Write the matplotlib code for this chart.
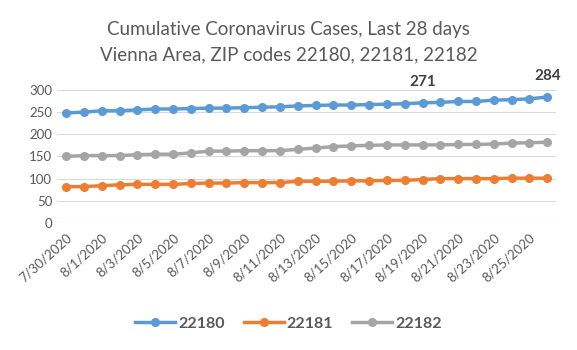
import numpy as np
import matplotlib.pyplot as plt

plt.rcParams['font.family'] = ['Lato', 'DejaVu Sans']

dates = ["7/30/2020", "7/31/2020"] + ["8/%d/2020" % d for d in range(1, 27)]
s22180 = [248, 250, 253, 253, 255, 257, 257, 258, 259, 259, 260, 261, 262, 264,
          265, 266, 266, 267, 268, 269, 271, 272, 274, 274, 277, 278, 280, 284]
s22181 = [82, 82, 84, 86, 87, 87, 87, 89, 90, 90, 91, 91, 91, 94,
          94, 94, 95, 95, 96, 96, 98, 100, 100, 100, 100, 101, 101, 101]
s22182 = [150, 152, 152, 152, 154, 155, 155, 158, 162, 162, 163, 163, 163, 166,
          169, 172, 174, 175, 176, 176, 176, 176, 177, 177, 178, 180, 181, 182]
labeled = [20, 27]  # points with data labels on 22180

txt = "#595959"
fig = plt.figure(figsize=(5.77, 3.5), dpi=100)
ax = fig.add_axes([0.099, 0.363, 0.865, 0.38])

x = np.arange(len(dates))
for ys, c, name in [(s22180, "#5B9BD5", "22180"), (s22181, "#ED7D31", "22181"),
                    (s22182, "#A5A5A5", "22182")]:
    ax.plot(x, ys, color=c, lw=2.5, marker="o", ms=5.5, label=name)

for i in labeled:
    ax.annotate(str(s22180[i]), (x[i], s22180[i]), xytext=(0, 10),
                textcoords="offset points", ha="center", va="bottom",
                fontsize=11, fontweight="bold", color="#404040")

ax.set_xlim(-0.5, len(dates) - 0.5)
ax.set_ylim(0, 300)
ax.set_yticks(range(0, 301, 50))
ax.set_xticks(x[::2])
ax.set_xticklabels(dates[::2], rotation=42, ha="right", rotation_mode="anchor")
ax.tick_params(axis="both", length=0, labelsize=9.5, colors=txt)
ax.tick_params(axis="x", pad=6)
ax.grid(axis="y", color="#D9D9D9", lw=0.8)
ax.set_axisbelow(True)
for s in ax.spines.values():
    s.set_visible(False)
ax.axhline(0, color="#D9D9D9", lw=0.8)

fig.text(0.5, 0.915, "Cumulative Coronavirus Cases, Last 28 days", ha="center",
         va="center", fontsize=13.5, color=txt)
fig.text(0.5, 0.843, "Vienna Area, ZIP codes 22180, 22181, 22182", ha="center",
         va="center", fontsize=13.5, color=txt)

leg = fig.legend(loc="center", bbox_to_anchor=(0.5, 0.075), ncol=3, frameon=False,
                 handlelength=2.5, columnspacing=1.2, handletextpad=0.2,
                 prop={"weight": "bold", "size": 11.5})
for t in leg.get_texts():
    t.set_color(txt)

fig.savefig("out.png", dpi=100)
